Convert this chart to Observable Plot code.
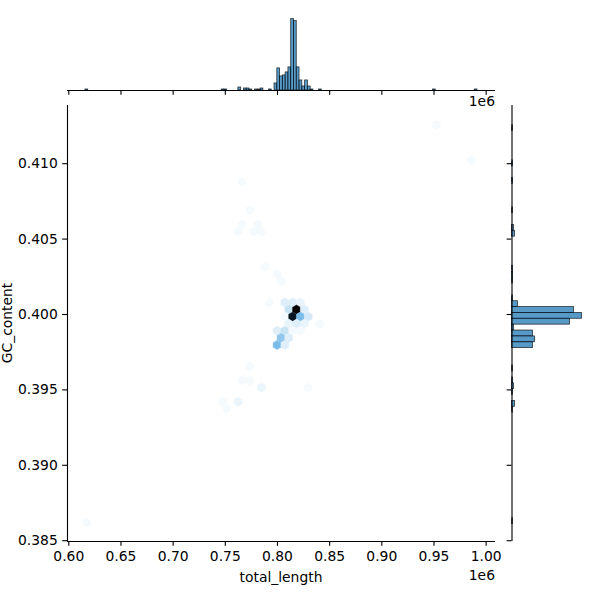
<!DOCTYPE html>
<html><head><meta charset="utf-8">
<script src="https://cdn.jsdelivr.net/npm/d3@7"></script>
<script src="https://cdn.jsdelivr.net/npm/@observablehq/plot@0.6"></script>
<style>
html,body{margin:0;padding:0;background:#fff}
#chart{position:relative;width:600px;height:600px;overflow:hidden;font-family:"DejaVu Sans",sans-serif}
#chart svg{position:absolute;max-width:none}
</style></head><body><div id="chart"></div>
<script>
// ---- data ----
const hexX = [952433, 985985, 766033, 773489, 766033, 780945, 762305, 777217, 784673, 788401,
  799585, 803313, 792129, 807041, 814497, 821953, 810769, 818225, 825681, 807041,
  814497, 821953, 829409, 810769, 818225, 825681, 840593, 799585, 807041, 814497,
  821953, 803313, 810769, 799585, 807041, 773489, 766033, 773489, 784673, 829409,
  747393, 762305, 751121, 616913];
const hexY = [0.412573, 0.410219, 0.408806, 0.406923, 0.405982, 0.405982, 0.405511, 0.405511, 0.405511, 0.403157,
  0.402686, 0.402215, 0.400803, 0.400803, 0.400803, 0.400803, 0.400332, 0.400332, 0.400332, 0.399861,
  0.399861, 0.399861, 0.399861, 0.399390, 0.399390, 0.399390, 0.399390, 0.398920, 0.398920, 0.398920,
  0.398920, 0.398449, 0.398449, 0.397978, 0.397978, 0.396566, 0.395624, 0.395624, 0.395153, 0.395153,
  0.394212, 0.394212, 0.393741, 0.386208];
const hexCount = [1, 1, 1, 1, 1, 1, 1, 1, 1, 1,
  1, 1, 1, 3, 3, 2, 5, 40, 3, 1,
  37, 12, 4, 2, 3, 2, 1, 3, 5, 1,
  1, 10, 3, 12, 3, 1, 1, 1, 2, 1,
  1, 2, 1, 1];

const topBinStart = [615940, 746525, 749190, 762515, 767845, 770510, 773175, 778505, 781170, 783835,
  791830, 797160, 799825, 802490, 805155, 807820, 810485, 813150, 815815, 818480,
  821145, 823810, 826475, 829140, 831805, 839800, 949065, 989040];
const topBinCount = [1, 1, 1, 3, 2, 2, 1, 1, 1, 2,
  1, 7, 22, 14, 15, 18, 23, 71, 69, 23,
  10, 4, 10, 4, 1, 1, 1, 1];
const topBinWidth = 2665;

const rightBinStart = [0.412163, 0.409829, 0.408662, 0.406717, 0.405550, 0.405161, 0.402827, 0.402438, 0.402049, 0.400882,
  0.400493, 0.400104, 0.399715, 0.399326, 0.398937, 0.398548, 0.398159, 0.397770, 0.396214, 0.395436,
  0.395047, 0.394658, 0.393880, 0.393491, 0.386100];
const rightBinCount = [1, 1, 1, 1, 2, 3, 1, 1, 1, 1,
  6, 62, 70, 58, 2, 21, 23, 21, 1, 1,
  2, 1, 3, 1, 1];
const rightBinWidth = 0.000389;

const xTicks = [600000, 650000, 700000, 750000, 800000, 850000, 900000, 950000, 1000000];
const yTicks = [0.385, 0.390, 0.395, 0.400, 0.405, 0.410];
const xLabel = "total_length";
const yLabel = "GC_content";
const offsetLabel = "1e6";

// ---- layout / style ----
const FONT = "DejaVu Sans";
const FS = 13.89;
const TICK = 4.86;
const LW = 1.11;
const xDomain = [598754, 1008951];
const yDomain = [0.384947, 0.413859];
const base = d3.hsl("#1f77b4");
const cmapColors = d3.range(12).map(i => d3.hsl(base.h, base.s, 1 - i / 11).formatHex());
const cmap = d3.piecewise(d3.interpolateRgb, cmapColors);
const hist = {fill: "#1f77b4", fillOpacity: 0.75, stroke: "black", strokeOpacity: 0.75, strokeWidth: 0.8};
const styleBase = {background: "transparent", fontFamily: FONT, fontSize: FS + "px", color: "black", overflow: "visible"};

const hexes = hexX.map((x, i) => ({x, y: hexY[i], n: hexCount[i]}));
const topBins = topBinStart.map((x, i) => ({x1: x, x2: x + topBinWidth, n: topBinCount[i]}));
const rightBins = rightBinStart.map((y, i) => ({y1: y, y2: y + rightBinWidth, n: rightBinCount[i]}));

const chart = document.getElementById("chart");

// main joint plot
const main = Plot.plot({
  width: 510, height: 510,
  marginTop: 15, marginLeft: 67, marginRight: 15, marginBottom: 59,
  x: {domain: xDomain},
  y: {domain: yDomain},
  color: {type: "linear", domain: [0, d3.max(hexCount)], interpolate: cmap},
  style: styleBase,
  marks: [
    Plot.hexagon(hexes, {x: "x", y: "y", fill: "n", stroke: "n", strokeWidth: 0.4, r: 3.95}),
    Plot.axisX({ticks: xTicks, tickFormat: d => (d / 1e6).toFixed(2), tickSize: TICK, tickPadding: TICK, strokeWidth: LW, label: null, fontSize: FS}),
    Plot.axisY({ticks: yTicks, tickFormat: d => d.toFixed(3), tickSize: TICK, tickPadding: TICK, strokeWidth: LW, label: null, fontSize: FS}),
    Plot.ruleX([xDomain[0]], {strokeWidth: LW}),
    Plot.ruleY([yDomain[0]], {strokeWidth: LW})
  ]
});
main.style.left = "0px"; main.style.top = "90px";
chart.appendChild(main);

const ms = d3.select(main);
ms.append("text").attr("x", 281).attr("y", 492).attr("text-anchor", "middle")
  .attr("font-family", FONT).attr("font-size", FS).attr("fill", "black").text(xLabel);
ms.append("text").attr("x", 495).attr("y", 490).attr("text-anchor", "end")
  .attr("font-family", FONT).attr("font-size", FS).attr("fill", "black").text(offsetLabel);
ms.append("text").attr("x", 495).attr("y", 16).attr("text-anchor", "end")
  .attr("font-family", FONT).attr("font-size", FS).attr("fill", "black").text(offsetLabel);
ms.append("text").attr("transform", "translate(12,233) rotate(-90)").attr("text-anchor", "middle")
  .attr("font-family", FONT).attr("font-size", FS).attr("fill", "black").text(yLabel);

// top marginal histogram
const topPlot = Plot.plot({
  width: 510, height: 100,
  marginTop: 15, marginBottom: 10, marginLeft: 67, marginRight: 15,
  x: {domain: xDomain},
  y: {domain: [0, d3.max(topBinCount) * 1.05], axis: null},
  style: styleBase,
  marks: [
    Plot.rectY(topBins, {x1: "x1", x2: "x2", y: "n", ...hist}),
    Plot.ruleY([0], {strokeWidth: LW}),
    Plot.axisX({ticks: xTicks, tickFormat: () => "", tickSize: TICK, strokeWidth: LW, label: null})
  ]
});
topPlot.style.left = "0px"; topPlot.style.top = "0px";
chart.appendChild(topPlot);

// right marginal histogram
const rightPlot = Plot.plot({
  width: 100, height: 510,
  marginTop: 15, marginBottom: 59, marginLeft: 11.5, marginRight: 15,
  x: {domain: [0, d3.max(rightBinCount) * 1.05], axis: null},
  y: {domain: yDomain},
  style: styleBase,
  marks: [
    Plot.rectX(rightBins, {y1: "y1", y2: "y2", x: "n", ...hist}),
    Plot.ruleX([0], {strokeWidth: LW}),
    Plot.axisY({ticks: yTicks, tickFormat: () => "", tickSize: TICK, strokeWidth: LW, label: null})
  ]
});
rightPlot.style.left = "500px"; rightPlot.style.top = "90px";
chart.appendChild(rightPlot);
</script>
</body></html>
